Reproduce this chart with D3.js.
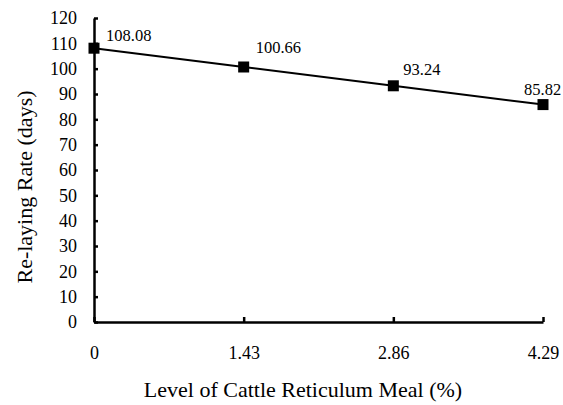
<!DOCTYPE html>
<html>
<head>
<meta charset="utf-8">
<script src="https://cdn.jsdelivr.net/npm/d3@7"></script>
<style>
  body { margin: 0; background: #fff; }
</style>
</head>
<body>
<svg id="chart" width="563" height="405"></svg>
<script>
// data
const levels = [0, 1.43, 2.86, 4.29];
const relayingRate = [108.08, 100.66, 93.24, 85.82];
const yTicks = d3.range(0, 121, 10);
const xTitle = "Level of Cattle Reticulum Meal (%)";
const yTitle = "Re-laying Rate (days)";

const serif = "'Liberation Serif', 'Times New Roman', serif";

const margin = { top: 18, right: 20, bottom: 83, left: 94 },
    width = 543 - margin.left,
    height = 322 - margin.top;

const svg = d3.select("#chart").attr("font-family", serif);
const g = svg.append("g")
    .attr("transform", "translate(" + margin.left + "," + margin.top + ")");

let xScale = d3.scaleLinear().domain([0, 4.29]).range([0, width]);
let yScale = d3.scaleLinear().domain([0, 120]).range([height, 0]);

// y axis
let yAxis = g.append("g")
    .call(d3.axisRight(yScale).tickValues(yTicks).tickSize(4).tickSizeOuter(0).tickFormat(d3.format("d")));
yAxis.attr("font-family", serif);
yAxis.select(".domain").attr("stroke-width", 2.5);
yAxis.selectAll(".tick line").attr("stroke-width", 2.5);
yAxis.selectAll(".tick text")
    .attr("x", -17)
    .attr("text-anchor", "end")
    .attr("font-size", "18px");

// x axis
let xAxis = g.append("g")
    .attr("transform", "translate(0," + height + ")")
    .call(d3.axisTop(xScale).tickValues(levels).tickSize(5).tickSizeOuter(0).tickFormat(d => d));
xAxis.attr("font-family", serif);
xAxis.select(".domain").attr("stroke-width", 2.5);
xAxis.selectAll(".tick line").attr("stroke-width", 2.5);
xAxis.selectAll(".tick text")
    .attr("y", 37)
    .attr("font-size", "18px");

// line
g.append("path")
    .datum(relayingRate)
    .attr("fill", "none")
    .attr("stroke", "#000")
    .attr("stroke-width", 2)
    .attr("d", d3.line().x((d, i) => xScale(levels[i])).y(d => yScale(d)));

// markers
g.selectAll("rect.marker")
    .data(relayingRate)
    .enter().append("rect")
    .attr("class", "marker")
    .attr("x", (d, i) => xScale(levels[i]) - 5.5)
    .attr("y", d => yScale(d) - 5.5)
    .attr("width", 11)
    .attr("height", 11)
    .attr("fill", "#000");

// value labels
const labelDx = [12, 12, 10, -19];
const labelDy = [-7, -14, -11, -10];
g.selectAll("text.value")
    .data(relayingRate)
    .enter().append("text")
    .attr("class", "value")
    .attr("x", (d, i) => xScale(levels[i]) + labelDx[i])
    .attr("y", (d, i) => yScale(d) + labelDy[i])
    .attr("font-size", "16.5px")
    .text(d => d3.format(".2f")(d));

// axis titles
svg.append("text")
    .attr("x", 303)
    .attr("y", 397)
    .attr("text-anchor", "middle")
    .attr("font-size", "22px")
    .text(xTitle);

svg.append("text")
    .attr("transform", "translate(32,187) rotate(-90)")
    .attr("text-anchor", "middle")
    .attr("font-size", "22px")
    .text(yTitle);
</script>
</body>
</html>
